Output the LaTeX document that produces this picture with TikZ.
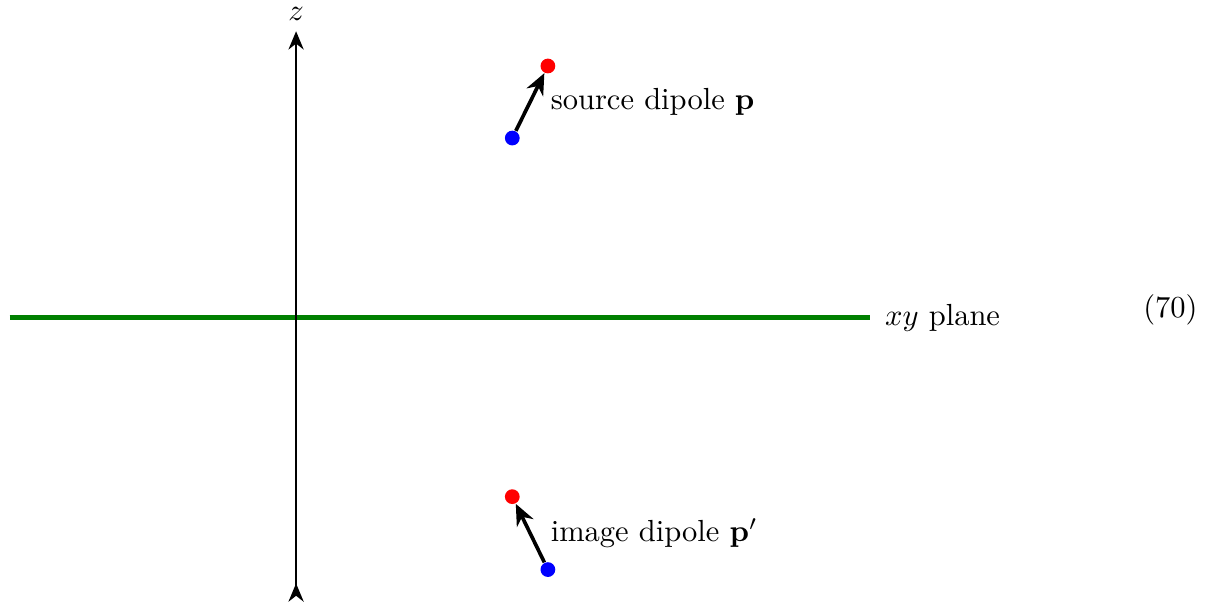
\documentclass[tikz,border=0pt]{standalone}
\usepackage{amsmath,amssymb}
\usepackage{xcolor}
\usetikzlibrary{arrows.meta, positioning}

\begin{document}
\begin{tikzpicture}[
	axis/.style={{Stealth[reversed, length=6pt, width=5pt]}-{Stealth[length=6pt, width=5pt]}, semithick},
	plane/.style={draw=green!50!black, line width=1.7pt},
	posdot/.style={circle, fill=red, inner sep=0pt, minimum size=0.17cm},
	negdot/.style={circle, fill=blue, inner sep=0pt, minimum size=0.17cm},
	dipole/.style={-{Stealth[length=7pt, width=6pt]}, very thick}
]
	\useasboundingbox (-3.41,-3.27) rectangle (10.56,3.66);

	% z axis and the xy plane
	\coordinate (zbot) at (0,-3.27);
	\coordinate (ztop) at (0,3.30);
	\coordinate (planeL) at (-3.30,0);
	\coordinate (planeR) at (6.61,0);
	\draw [plane] (planeL) -- (planeR);
	\draw [axis] (zbot) -- (ztop);
	\node (zlabel) [above=0pt of ztop] {$z$};
	\node (planelabel) [right=0.5mm of planeR] {$xy$ plane};
	\node (eqnum) at (10.07,0.09) {(70)};

	% source dipole
	\node (srcneg) [negdot] at (2.49,2.07) {};
	\node (srcpos) [posdot] at (2.90,2.90) {};
	\draw [dipole] (srcneg) -- node[right=1mm] {source dipole $\mathbf{p}$} (srcpos);

	% image dipole
	\node (imgneg) [negdot] at (2.90,-2.90) {};
	\node (imgpos) [posdot] at (2.49,-2.06) {};
	\draw [dipole] (imgneg) -- node[right=1mm] {image dipole $\mathbf{p}'$} (imgpos);

\end{tikzpicture}
\end{document}
